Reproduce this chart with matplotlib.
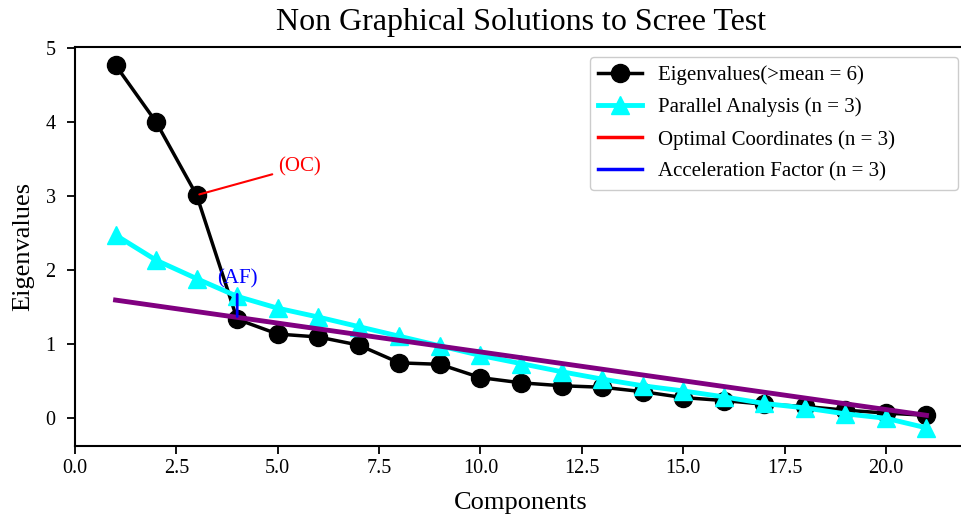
import matplotlib
matplotlib.use("Agg")
import matplotlib.pyplot as plt

plt.rcParams['font.family'] = ['Liberation Serif', 'DejaVu Serif']

components = list(range(1, 22))
eigenvalues = [4.77, 4.00, 3.01, 1.33, 1.13, 1.09, 0.98, 0.74, 0.72, 0.54, 0.47,
               0.43, 0.41, 0.35, 0.27, 0.23, 0.18, 0.15, 0.10, 0.06, 0.03]
parallel = [2.47, 2.13, 1.88, 1.64, 1.48, 1.36, 1.23, 1.10, 0.97, 0.84, 0.73,
            0.62, 0.52, 0.43, 0.36, 0.28, 0.19, 0.13, 0.05, -0.01, -0.14]
trend_x = [1, 21]
trend_y = [1.59, 0.03]
n_oc = 3
n_af = 4

fig = plt.figure(figsize=(9.61, 5.2), dpi=100)
ax = fig.add_axes([75 / 961, 74 / 520, 892 / 961, 399 / 520])

ax.plot(components, eigenvalues, color='black', marker='o', markersize=13,
        linewidth=2.5, label='Eigenvalues(>mean = 6)', zorder=3)
ax.plot(components, parallel, color='cyan', marker='^', markersize=13,
        linewidth=3.5, label='Parallel Analysis (n = 3)', zorder=4)
ax.plot([], [], color='red', linewidth=2.5, label='Optimal Coordinates (n = 3)')
ax.plot([], [], color='blue', linewidth=2.5, label='Acceleration Factor (n = 3)')
ax.plot(trend_x, trend_y, color='purple', linewidth=3.5, zorder=5)

ax.annotate('(OC)', xy=(n_oc, eigenvalues[n_oc - 1]), xytext=(n_oc + 2, eigenvalues[n_oc - 1] + 0.32),
            color='red', fontsize=15, zorder=6,
            arrowprops=dict(arrowstyle='-', color='red', linewidth=1.5))
ax.annotate('(AF)', xy=(n_af, eigenvalues[n_af - 1]), xytext=(n_af, eigenvalues[n_af - 1] + 0.48),
            color='blue', fontsize=15, ha='center', zorder=6,
            arrowprops=dict(arrowstyle='-', color='blue', linewidth=2))

ax.set_xlim(0, 22)
ax.set_title('Non Graphical Solutions to Scree Test', fontsize=23, pad=12)
ax.set_xlabel('Components', fontsize=19, labelpad=10)
ax.set_ylabel('Eigenvalues', fontsize=19, labelpad=8)
ax.tick_params(labelsize=14.5, length=6, width=1.3)
ax.tick_params(axis='y', pad=8)
for s in ax.spines.values():
    s.set_linewidth(1.5)

ax.legend(loc='upper left', bbox_to_anchor=(0.577, 0.5, 0.413, 0.475), mode='expand',
          fontsize=15, handlelength=2.1, labelspacing=0.6, borderaxespad=0,
          edgecolor='#cccccc', framealpha=1)

fig.savefig('out.png', dpi=100)
